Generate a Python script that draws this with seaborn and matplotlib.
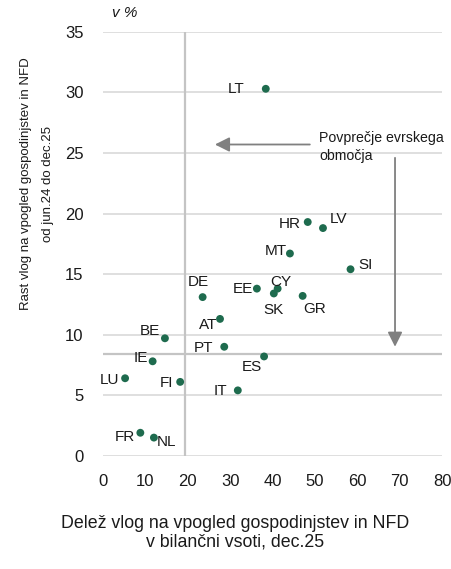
import matplotlib
matplotlib.use("Agg")
import matplotlib.pyplot as plt
import seaborn as sns
import pandas as pd

# data
countries = ['LT', 'HR', 'LV', 'MT', 'SI', 'EE', 'CY', 'SK', 'GR', 'DE',
             'AT', 'BE', 'PT', 'ES', 'IE', 'LU', 'FI', 'IT', 'FR', 'NL']
share = [38.4, 48.3, 51.9, 44.1, 58.4, 36.3, 41.2, 40.3, 47.1, 23.5,
         27.6, 14.6, 28.6, 38.0, 11.7, 5.2, 18.2, 31.8, 8.8, 12.0]
growth = [30.3, 19.3, 18.8, 16.7, 15.4, 13.8, 13.8, 13.4, 13.2, 13.1,
          11.3, 9.7, 9.0, 8.2, 7.8, 6.4, 6.1, 5.4, 1.9, 1.5]
ea_share = 19.3
ea_growth = 8.4
x_ticks = [0, 10, 20, 30, 40, 50, 60, 70, 80]
y_ticks = [0, 5, 10, 15, 20, 25, 30, 35]

# label placement (pixels relative to point, horizontal alignment)
label_pos = {
    'LT': (-21, 0, 'right'), 'HR': (-7, -2, 'right'), 'LV': (7, 9, 'left'),
    'MT': (-3, 3, 'right'), 'SI': (8, 4, 'left'), 'EE': (-4, 0, 'right'),
    'CY': (3, 7, 'center'), 'SK': (0, -17, 'center'), 'GR': (1, -13, 'left'),
    'DE': (-4, 15, 'center'), 'AT': (-3, -6, 'right'), 'BE': (-5, 7, 'right'),
    'PT': (-11, -1, 'right'), 'ES': (-2, -11, 'right'), 'IE': (-5, 3, 'right'),
    'LU': (-6, -2, 'right'), 'FI': (-7, -1, 'right'), 'IT': (-11, -1, 'right'),
    'FR': (-5, -4, 'right'), 'NL': (3, -4, 'left'),
}

df = pd.DataFrame({'country': countries, 'share': share, 'growth': growth})

sns.set_style('white')
plt.rcParams['font.family'] = ['Liberation Sans', 'DejaVu Sans']

fig = plt.figure(figsize=(4.52, 5.69), dpi=100)
ax = fig.add_axes([0.228, 0.199, 0.75, 0.745])

# average lines
ax.axvline(ea_share, color='#c4c4c4', lw=1.6, zorder=1)
ax.axhline(ea_growth, color='#c4c4c4', lw=1.6, zorder=1)

sns.scatterplot(data=df, x='share', y='growth', ax=ax, color='#1e6b4e',
                s=32, edgecolor='none', zorder=3)

px = 0.72
for c, x, y in zip(countries, share, growth):
    dx, dy, ha = label_pos[c]
    ax.annotate(c, (x, y), xytext=(dx * px, dy * px), textcoords='offset points',
                ha=ha, va='center', fontsize=11, color='#1a1a1a')

# euro area average annotation
ax.annotate('', xy=(26.4, 25.7), xytext=(48.8, 25.7),
            arrowprops=dict(arrowstyle='-|>', color='#808080', lw=1.3,
                            mutation_scale=22, shrinkA=0, shrinkB=0))
ax.annotate('', xy=(68.9, 9.0), xytext=(68.9, 24.6),
            arrowprops=dict(arrowstyle='-|>', color='#808080', lw=1.3,
                            mutation_scale=22, shrinkA=0, shrinkB=0))
ax.text(51.0, 26.8, 'Povprečje evrskega\nobmočja', ha='left', va='top',
        fontsize=10.2, color='#1a1a1a', linespacing=1.35)

ax.set_xlim(0, 80)
ax.set_ylim(0, 35)
ax.set_xticks(x_ticks)
ax.set_yticks(y_ticks)
ax.grid(axis='y', color='#d6d6d6', lw=1.1)
ax.grid(axis='x', visible=False)
ax.set_axisbelow(True)
for s in ax.spines.values():
    s.set_visible(False)
ax.tick_params(axis='both', length=0, labelsize=12, colors='#1a1a1a')
ax.tick_params(axis='y', pad=14)
ax.tick_params(axis='x', pad=13)
ax.set_xlabel('')
ax.set_ylabel('')

ax.text(0.025, 1.045, 'v %', transform=ax.transAxes, style='italic',
        fontsize=11, ha='left', va='center', color='#1a1a1a')

fig.text(37 / 452, 1 - 184 / 569,
         'Rast vlog na vpogled gospodinjstev in NFD\nod jun.24 do dec.25',
         rotation=90, ha='center', va='center', fontsize=9.5,
         multialignment='center', linespacing=2.1, color='#1a1a1a')
fig.text(235 / 452, 1 - 533 / 569,
         'Delež vlog na vpogled gospodinjstev in NFD\nv bilančni vsoti, dec.25',
         ha='center', va='center', fontsize=12.8, multialignment='center',
         linespacing=1.12, color='#1a1a1a')

fig.savefig('out.png', dpi=100)
